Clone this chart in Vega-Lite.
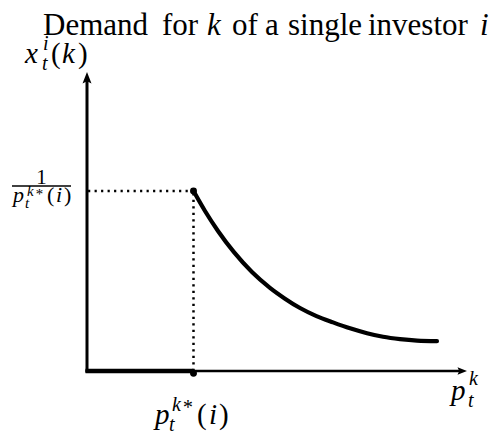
{
  "$schema": "https://vega.github.io/schema/vega-lite/v6.json",
  "width": 380,
  "height": 299,
  "autosize": {"type": "none"},
  "padding": {"left": 87, "top": 72, "right": 29, "bottom": 65},
  "background": "white",
  "config": {"view": {"stroke": null}, "text": {"font": "'Liberation Serif', 'Times New Roman', Times, 'DejaVu Serif', serif"}},
  "datasets": {
    "curve": [
      {"x": 1.0, "y": 1.0},
      {"x": 1.108, "y": 0.889},
      {"x": 1.23, "y": 0.778},
      {"x": 1.38, "y": 0.66},
      {"x": 1.549, "y": 0.55},
      {"x": 1.718, "y": 0.462},
      {"x": 1.859, "y": 0.402},
      {"x": 2.0, "y": 0.35},
      {"x": 2.155, "y": 0.305},
      {"x": 2.31, "y": 0.27},
      {"x": 2.47, "y": 0.237},
      {"x": 2.629, "y": 0.21},
      {"x": 2.78, "y": 0.19},
      {"x": 2.939, "y": 0.177},
      {"x": 3.099, "y": 0.169},
      {"x": 3.286, "y": 0.166}
    ],
    "xAxisThin": [{"x": -0.014, "x2": 3.521, "y": 0}],
    "xAxisThick": [{"x": -0.014, "x2": 1.0, "y": 0}],
    "yAxis": [{"x": 0, "y": -0.008, "y2": 1.6167}],
    "arrowUp": [{"x": 0, "y": 1.6278}],
    "arrowRight": [{"x": 3.5211, "y": 0}],
    "dotH": [{"x": 0.01, "x2": 1.0, "y": 1.0}],
    "dotV": [{"x": 1.0, "y": 0.0, "y2": 1.0}],
    "dots": [{"x": 1.0, "y": 1.0}, {"x": 1.0, "y": -0.012}],
    "fracBar": [{"x": -0.7042, "x2": -0.1502, "y": 1.0278}],
    "titleWords": [
      {"x": -0.4131, "y": 1.8667, "t": "Demand"},
      {"x": 0.7042, "y": 1.8667, "t": "for"},
      {"x": 1.3615, "y": 1.8667, "t": "of"},
      {"x": 1.6714, "y": 1.8667, "t": "a"},
      {"x": 1.8873, "y": 1.8667, "t": "single"},
      {"x": 2.6385, "y": 1.8667, "t": "investor"}
    ],
    "titleMath": [
      {"x": 1.1268, "y": 1.8667, "t": "k"},
      {"x": 3.6901, "y": 1.8667, "t": "i"}
    ],
    "upright29": [
      {"x": -0.338, "y": 1.7111, "t": "("},
      {"x": -0.0845, "y": 1.7111, "t": ")"},
      {"x": 1.0329, "y": -0.2944, "t": "("},
      {"x": 1.2394, "y": -0.2944, "t": ")"}
    ],
    "italic29": [
      {"x": -0.5822, "y": 1.7111, "t": "x"},
      {"x": -0.2347, "y": 1.7111, "t": "k"},
      {"x": 0.6385, "y": -0.2944, "t": "p"},
      {"x": 1.1455, "y": -0.2944, "t": "i"},
      {"x": 3.4178, "y": -0.1611, "t": "p"}
    ],
    "italic20": [
      {"x": -0.4131, "y": 1.7833, "t": "i"},
      {"x": -0.4225, "y": 1.6722, "t": "t"},
      {"x": 0.7981, "y": -0.2222, "t": "k"},
      {"x": 0.892, "y": -0.2389, "t": "*"},
      {"x": 0.77, "y": -0.3333, "t": "t"},
      {"x": 3.5869, "y": -0.0778, "t": "k"},
      {"x": 3.5775, "y": -0.2, "t": "t"}
    ],
    "numerator": [{"x": -0.4272, "y": 1.0389, "t": "1"}],
    "italic22": [
      {"x": -0.6948, "y": 0.9389, "t": "p"},
      {"x": -0.2911, "y": 0.9389, "t": "i"}
    ],
    "upright22": [
      {"x": -0.3756, "y": 0.9389, "t": "("},
      {"x": -0.216, "y": 0.9389, "t": ")"}
    ],
    "italic15": [
      {"x": -0.5634, "y": 0.9722, "t": "k"},
      {"x": -0.4883, "y": 0.9556, "t": "*"},
      {"x": -0.5822, "y": 0.9056, "t": "t"}
    ]
  },
  "encoding": {
    "x": {"field": "x", "type": "quantitative", "scale": {"domain": [0, 3.5681], "nice": false, "zero": false}, "axis": null},
    "y": {"field": "y", "type": "quantitative", "scale": {"domain": [0, 1.6611], "nice": false, "zero": false}, "axis": null}
  },
  "layer": [
    {"data": {"name": "dotH"}, "mark": {"type": "rule", "color": "black", "strokeWidth": 2.5, "strokeDash": [2.2, 4.3]}, "encoding": {"x2": {"field": "x2"}}},
    {"data": {"name": "dotV"}, "mark": {"type": "rule", "color": "black", "strokeWidth": 2.5, "strokeDash": [2.2, 4.3]}, "encoding": {"y2": {"field": "y2"}}},
    {"data": {"name": "xAxisThin"}, "mark": {"type": "rule", "color": "black", "strokeWidth": 2.5}, "encoding": {"x2": {"field": "x2"}}},
    {"data": {"name": "xAxisThick"}, "mark": {"type": "rule", "color": "black", "strokeWidth": 4.5}, "encoding": {"x2": {"field": "x2"}}},
    {"data": {"name": "yAxis"}, "mark": {"type": "rule", "color": "black", "strokeWidth": 3}, "encoding": {"y2": {"field": "y2"}}},
    {"data": {"name": "arrowUp"}, "mark": {"type": "point", "filled": true, "color": "black", "opacity": 1, "size": 144, "shape": "M0,-1L-0.75,0.9L0,0.55L0.75,0.9Z"}},
    {"data": {"name": "arrowRight"}, "mark": {"type": "point", "filled": true, "color": "black", "opacity": 1, "size": 100, "shape": "M1,0L-0.9,-0.75L-0.55,0L-0.9,0.75Z"}},
    {"data": {"name": "curve"}, "mark": {"type": "line", "color": "black", "strokeWidth": 4.2, "interpolate": "monotone", "strokeCap": "round"}},
    {"data": {"name": "dots"}, "mark": {"type": "circle", "color": "black", "opacity": 1, "size": 48}},
    {"data": {"name": "fracBar"}, "mark": {"type": "rule", "color": "black", "strokeWidth": 1.3}, "encoding": {"x2": {"field": "x2"}}},
    {"data": {"name": "titleWords"}, "mark": {"type": "text", "fontSize": 31, "align": "left", "baseline": "alphabetic", "color": "black"}, "encoding": {"text": {"field": "t"}}},
    {"data": {"name": "titleMath"}, "mark": {"type": "text", "fontStyle": "italic", "fontSize": 31, "align": "left", "baseline": "alphabetic", "color": "black"}, "encoding": {"text": {"field": "t"}}},
    {"data": {"name": "upright29"}, "mark": {"type": "text", "fontSize": 29, "align": "left", "baseline": "alphabetic", "color": "black"}, "encoding": {"text": {"field": "t"}}},
    {"data": {"name": "italic29"}, "mark": {"type": "text", "fontStyle": "italic", "fontSize": 29, "align": "left", "baseline": "alphabetic", "color": "black"}, "encoding": {"text": {"field": "t"}}},
    {"data": {"name": "italic20"}, "mark": {"type": "text", "fontStyle": "italic", "fontSize": 20, "align": "left", "baseline": "alphabetic", "color": "black"}, "encoding": {"text": {"field": "t"}}},
    {"data": {"name": "numerator"}, "mark": {"type": "text", "fontSize": 21, "align": "center", "baseline": "alphabetic", "color": "black"}, "encoding": {"text": {"field": "t"}}},
    {"data": {"name": "italic22"}, "mark": {"type": "text", "fontStyle": "italic", "fontSize": 22, "align": "left", "baseline": "alphabetic", "color": "black"}, "encoding": {"text": {"field": "t"}}},
    {"data": {"name": "upright22"}, "mark": {"type": "text", "fontSize": 22, "align": "left", "baseline": "alphabetic", "color": "black"}, "encoding": {"text": {"field": "t"}}},
    {"data": {"name": "italic15"}, "mark": {"type": "text", "fontStyle": "italic", "fontSize": 15, "align": "left", "baseline": "alphabetic", "color": "black"}, "encoding": {"text": {"field": "t"}}}
  ]
}
